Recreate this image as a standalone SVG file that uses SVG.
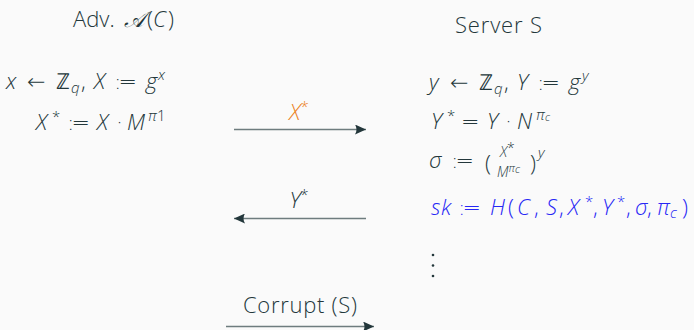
<svg xmlns="http://www.w3.org/2000/svg" width="694" height="330" viewBox="0 0 694 330">
  <style>
    text { font-family: "Open Sans", "Lato", "DejaVu Sans", sans-serif; font-weight: 300; fill: #23373b; font-size: 22px; }
    .m { font-style: italic; }
    .up { font-style: normal; }
    .rel { font-family: "DejaVu Sans", sans-serif; font-weight: 200; font-style: normal; }
    .def { letter-spacing: -3px; }
    .sub { font-size: 15px; }
    .frac { font-size: 14px; }
    .tiny { font-size: 11px; }
    .orange { fill: #eb811b; }
    .blue { fill: #2727f5; }
    .shaft { stroke: #6e7c7e; stroke-width: 1.6; fill: none; }
    .dot { fill: #23373b; }
  </style>
  <defs>
    <marker id="tip" viewBox="0 0 12 10" refX="11" refY="5" markerWidth="12" markerHeight="10" markerUnits="userSpaceOnUse" orient="auto">
      <path d="M0,0 L11,5 L0,10 Q3,5 0,0 Z" fill="#23373b"/>
    </marker>
  </defs>

  <rect width="694" height="330" fill="#fafafa"/>

  <!-- Adversary column -->
  <g id="adversary">
    <text y="27"><tspan x="73">Adv.</tspan><tspan x="124" class="m">𝒜</tspan><tspan x="147">(</tspan><tspan x="153" class="m">C</tspan><tspan x="168">)</tspan></text>
    <text y="89" class="m"><tspan x="6">x</tspan><tspan x="27" class="rel">←</tspan><tspan x="56" class="up">ℤ</tspan><tspan x="71" class="sub" dy="4">q</tspan><tspan x="81" class="up" dy="-4">,</tspan><tspan x="94">X</tspan><tspan x="114" class="rel def">:=</tspan><tspan x="146">g</tspan><tspan x="158" class="sub" dy="-9">x</tspan></text>
    <text y="130" class="m"><tspan x="36">X</tspan><tspan x="52" class="up sub" dy="-8">*</tspan><tspan x="67" class="rel def" dy="8">:=</tspan><tspan x="97">X</tspan><tspan x="116" class="rel">·</tspan><tspan x="127">M</tspan><tspan x="148" class="sub" dy="-9">π</tspan><tspan x="157" class="up sub">1</tspan></text>
  </g>

  <!-- Server column -->
  <g id="server">
    <text x="455" y="33" textLength="87">Server S</text>
    <text y="90" class="m"><tspan x="429">y</tspan><tspan x="450" class="rel">←</tspan><tspan x="479" class="up">ℤ</tspan><tspan x="494" class="sub" dy="4">q</tspan><tspan x="504" class="up" dy="-4">,</tspan><tspan x="517">Y</tspan><tspan x="537" class="rel def">:=</tspan><tspan x="569">g</tspan><tspan x="582" class="sub" dy="-9">y</tspan></text>
    <text y="129" class="m"><tspan x="431">Y</tspan><tspan x="447" class="up sub" dy="-8">*</tspan><tspan x="461" class="rel" dy="8">=</tspan><tspan x="487">Y</tspan><tspan x="505" class="rel">·</tspan><tspan x="517">N</tspan><tspan x="536" class="sub" dy="-9">π</tspan><tspan x="545" class="tiny" dy="1">c</tspan></text>
    <text y="168" class="m"><tspan x="429">σ</tspan><tspan x="451" class="rel def">:=</tspan></text>
    <text x="485" y="171" class="up" font-size="28">(</text>
    <text x="500" y="157" class="m frac">X<tspan class="up" dy="-4">*</tspan></text>
    <text x="497" y="177" class="m frac">M<tspan dy="-5" class="tiny">π</tspan><tspan class="tiny" dy="1">c</tspan></text>
    <text x="530" y="171" class="up" font-size="28">)</text>
    <text x="538" y="158" class="m sub">y</text>
    <text y="215" class="m blue"><tspan x="431">s</tspan><tspan x="441">k</tspan><tspan x="458" class="rel def">:=</tspan><tspan x="490">H</tspan><tspan x="508" class="up">(</tspan><tspan x="517">C</tspan><tspan x="534" class="up">,</tspan><tspan x="546">S</tspan><tspan x="559" class="up">,</tspan><tspan x="568">X</tspan><tspan x="585" class="up sub" dy="-8">*</tspan><tspan x="593" class="up" dy="8">,</tspan><tspan x="602">Y</tspan><tspan x="617" class="up sub" dy="-8">*</tspan><tspan x="626" class="up" dy="8">,</tspan><tspan x="635">σ</tspan><tspan x="647" class="up">,</tspan><tspan x="657">π</tspan><tspan x="670" class="sub" dy="3">c</tspan><tspan x="682" class="up" dy="-3">)</tspan></text>
    <circle class="dot" cx="433" cy="255" r="1.3"/>
    <circle class="dot" cx="433" cy="265.5" r="1.3"/>
    <circle class="dot" cx="433" cy="276" r="1.3"/>
  </g>

  <!-- Messages -->
  <g id="connectors">
    <line class="shaft" x1="234" y1="129.5" x2="366" y2="129.5" marker-end="url(#tip)"/>
    <text x="299" y="120" text-anchor="middle" class="m orange">X<tspan class="up sub" dy="-8">*</tspan></text>
    <line class="shaft" x1="366" y1="218.5" x2="234" y2="218.5" marker-end="url(#tip)"/>
    <text x="299" y="208" text-anchor="middle" class="m">Y<tspan class="up sub" dy="-8">*</tspan></text>
    <line class="shaft" x1="226" y1="326.5" x2="374" y2="326.5" marker-end="url(#tip)"/>
    <text x="243" y="313" textLength="114">Corrupt (S)</text>
  </g>
</svg>
